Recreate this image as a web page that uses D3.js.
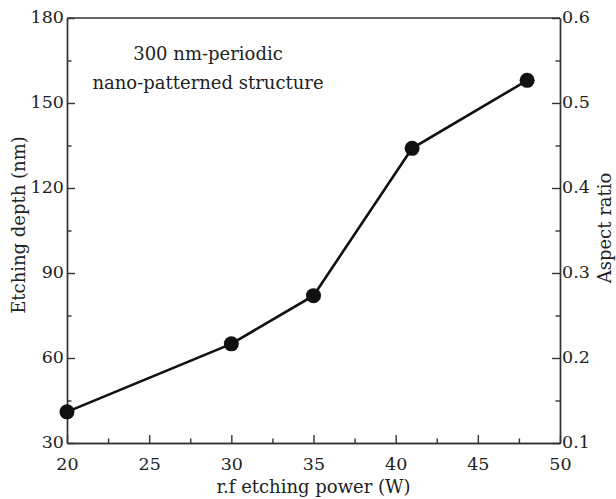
<!DOCTYPE html>
<html lang="en">
<head>
<meta charset="utf-8">
<script src="https://d3js.org/d3.v7.min.js"></script>
<style>
    body { margin: 0; background: #fff; }
    svg { display: block; }
    .axis path, .axis line { stroke: #333; stroke-width: 1.4; }
</style>
</head>
<body>
<svg width="616" height="499"></svg>
<script>
    // data
    const power = [20, 30, 35, 41, 48]
    const depth = [41, 65, 82, 134, 158]

    const xTicks = [20, 25, 30, 35, 40, 45, 50]
    const xMinor = [22.5, 27.5, 32.5, 37.5, 42.5, 47.5]
    const yTicks = [30, 60, 90, 120, 150, 180]
    const yMinor = [45, 75, 105, 135, 165]
    const rTicks = [0.1, 0.2, 0.3, 0.4, 0.5, 0.6]
    const rMinor = [0.15, 0.25, 0.35, 0.45, 0.55]

    const FONT = "'DejaVu Serif', serif"

    const svg = d3.select("svg")
    let m = {top: 18, bottom: 443, left: 67, right: 560}

    let xScale = d3.scaleLinear().domain([20, 50]).range([m.left, m.right])
    let yScale = d3.scaleLinear().domain([30, 180]).range([m.bottom, m.top])
    let rScale = d3.scaleLinear().domain([0.1, 0.6]).range([m.bottom, m.top])

    // frame top
    svg.append("line")
        .attr("x1", m.left).attr("x2", m.right)
        .attr("y1", m.top).attr("y2", m.top)
        .style("stroke", "#333").style("stroke-width", 1.4)

    function tickText(g, dy) {
        g.selectAll("text")
            .style("font-size", "17.5px").style("font-family", FONT).style("fill", "#222")
            .attr("dy", dy)
    }

    // bottom axis
    let xAxis = svg.append("g").attr("class", "axis")
        .attr("transform", "translate(0," + m.bottom + ")")
        .call(d3.axisBottom(xScale).tickValues(xTicks).tickSizeInner(-8).tickSizeOuter(0).tickPadding(11))
    tickText(xAxis, 16)
    svg.append("g").attr("class", "axis")
        .attr("transform", "translate(0," + m.bottom + ")")
        .call(d3.axisBottom(xScale).tickValues(xMinor).tickSizeInner(-4.5).tickSizeOuter(0).tickFormat(""))

    // left axis
    let yAxis = svg.append("g").attr("class", "axis")
        .attr("transform", "translate(" + m.left + ",0)")
        .call(d3.axisLeft(yScale).tickValues(yTicks).tickSizeInner(-8).tickSizeOuter(0).tickPadding(3))
    tickText(yAxis, 4)
    svg.append("g").attr("class", "axis")
        .attr("transform", "translate(" + m.left + ",0)")
        .call(d3.axisLeft(yScale).tickValues(yMinor).tickSizeInner(-4.5).tickSizeOuter(0).tickFormat(""))

    // right axis
    let rAxis = svg.append("g").attr("class", "axis")
        .attr("transform", "translate(" + m.right + ",0)")
        .call(d3.axisRight(rScale).tickValues(rTicks).tickSizeInner(-8).tickSizeOuter(0).tickPadding(2).tickFormat(d3.format(".1f")))
    tickText(rAxis, 4)
    svg.append("g").attr("class", "axis")
        .attr("transform", "translate(" + m.right + ",0)")
        .call(d3.axisRight(rScale).tickValues(rMinor).tickSizeInner(-4.5).tickSizeOuter(0).tickFormat(""))

    // line + dots
    let pts = power.map((p, i) => ({x: p, y: depth[i]}))
    svg.append("path")
        .datum(pts)
        .attr("d", d3.line().x(d => xScale(d.x)).y(d => yScale(d.y)))
        .style("fill", "none").style("stroke", "#111").style("stroke-width", 2.6)
    svg.selectAll("circle").data(pts).enter().append("circle")
        .attr("cx", d => xScale(d.x)).attr("cy", d => yScale(d.y))
        .attr("r", 7.5).style("fill", "#111")

    // axis titles
    function label(x, y, rot, str) {
        svg.append("text")
            .attr("transform", "translate(" + x + "," + y + ")" + (rot ? " rotate(-90)" : ""))
            .attr("text-anchor", "middle")
            .style("font-size", "18px").style("font-family", FONT).style("fill", "#222")
            .text(str)
    }
    label((m.left + m.right) / 2, 493, false, "r.f etching power (W)")
    label(25, 225, true, "Etching depth (nm)")
    label(611, 228, true, "Aspect ratio")

    // annotation
    label(208, 60, false, "300 nm-periodic")
    label(208, 89, false, "nano-patterned structure")
</script>
</body>
</html>
